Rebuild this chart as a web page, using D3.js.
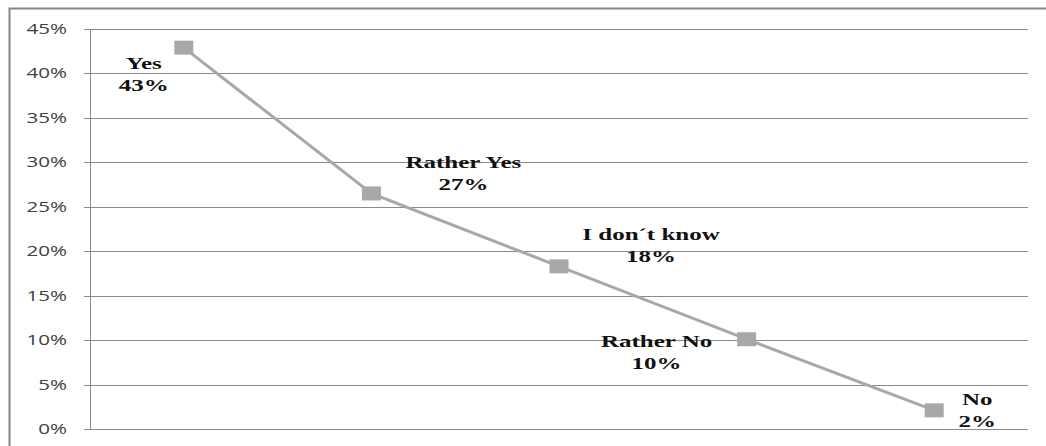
<!DOCTYPE html>
<html>
<head>
<meta charset="utf-8">
<title>Chart</title>
<script src="https://d3js.org/d3.v7.min.js"></script>
<style>
  body { margin: 0; background: #fff; }
  svg { display: block; }
  .tick-label { font-family: "Open Sans", "Liberation Sans", sans-serif; font-size: 14px; fill: #404040; }
  .pt-label { font-family: "Liberation Serif", "DejaVu Serif", serif; font-weight: bold; font-size: 17px; fill: #111; }
</style>
</head>
<body>
<svg width="1046" height="446"></svg>
<script>
var categories = ["Yes", "Rather Yes", "I don\u00b4t know", "Rather No", "No"];
var values = [0.429, 0.265, 0.183, 0.101, 0.021];
var valueLabels = ["43%", "27%", "18%", "10%", "2%"];
var yTicks = [0, 0.05, 0.10, 0.15, 0.20, 0.25, 0.30, 0.35, 0.40, 0.45];

// label placement relative to each point: [dx, dy of first line baseline]
var labelOffset = [[-40, 21], [92, -25], [92, -26], [-90, 8], [43, -5]];

var svg = d3.select("svg"),
    margin = {top: 29, right: 18, bottom: 17, left: 90},
    width = +svg.attr("width") - margin.left - margin.right,
    height = +svg.attr("height") - margin.top - margin.bottom;

var stretch = 1.47; // text in the reference is wider than tall

// outer frame
svg.append("rect")
    .attr("x", 9.5).attr("y", 8.5)
    .attr("width", 1046).attr("height", 446)
    .attr("fill", "none")
    .attr("stroke", "#868686")
    .attr("stroke-width", 2);

var x = d3.scalePoint().domain(categories).range([0, width]).padding(0.5),
    y = d3.scaleLinear().domain([0, 0.45]).range([height, 0]);

var g = svg.append("g")
    .attr("transform", "translate(" + margin.left + "," + margin.top + ")");

// grid
g.selectAll(".grid")
  .data(yTicks)
  .enter().append("line")
    .attr("x1", -6).attr("x2", width)
    .attr("y1", function(d) { return Math.round(y(d)) + 0.5; })
    .attr("y2", function(d) { return Math.round(y(d)) + 0.5; })
    .attr("stroke", "#8a8a8a")
    .attr("stroke-width", 1);

g.append("line")
    .attr("x1", 0.5).attr("x2", 0.5)
    .attr("y1", 0).attr("y2", height)
    .attr("stroke", "#8a8a8a");

g.selectAll(".tick-label")
  .data(yTicks)
  .enter().append("text")
    .attr("class", "tick-label")
    .attr("text-anchor", "end")
    .attr("transform", function(d) { return "translate(-23," + (y(d) + 5) + ") scale(" + stretch + ",1)"; })
    .text(function(d) { return Math.round(d * 100) + "%"; });

var data = categories.map(function(c, i) { return {cat: c, v: values[i], lab: valueLabels[i], off: labelOffset[i]}; });

g.append("path")
    .datum(data)
    .attr("fill", "none")
    .attr("stroke", "#a8a8a8")
    .attr("stroke-width", 3)
    .attr("d", d3.line().x(function(d) { return x(d.cat); }).y(function(d) { return y(d.v); }));

g.selectAll(".marker")
  .data(data)
  .enter().append("rect")
    .attr("x", function(d) { return x(d.cat) - 9.5; })
    .attr("y", function(d) { return y(d.v) - 7; })
    .attr("width", 19).attr("height", 14)
    .attr("fill", "#a8a8a8");

var lab = g.selectAll(".pt")
  .data(data)
  .enter().append("g")
    .attr("transform", function(d) {
      return "translate(" + (x(d.cat) + d.off[0]) + "," + (y(d.v) + d.off[1]) + ") scale(" + stretch + ",1)";
    });

lab.append("text").attr("class", "pt-label").attr("text-anchor", "middle")
    .text(function(d) { return d.cat; });
lab.append("text").attr("class", "pt-label").attr("text-anchor", "middle")
    .attr("y", 22)
    .text(function(d) { return d.lab; });
</script>
</body>
</html>
